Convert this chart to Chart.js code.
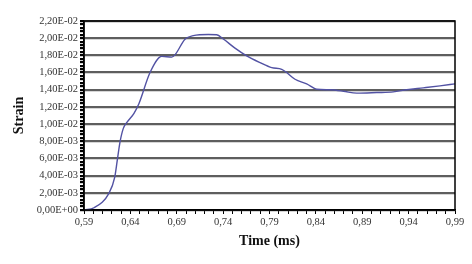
<!DOCTYPE html>
<html>
<head>
<meta charset="utf-8">
<script src="https://cdn.jsdelivr.net/npm/chart.js@4/dist/chart.umd.min.js"></script>
<style>
html,body{margin:0;padding:0;background:#fff;}
#wrap{width:472px;height:264px;position:relative;}
</style>
</head>
<body>
<div id="wrap"><canvas id="c" width="472" height="264"></canvas></div>
<script>
const times = [0.590, 0.6008, 0.6170, 0.6231, 0.6259, 0.6288, 0.6324, 0.6360, 0.6439, 0.6493, 0.6612, 0.6738, 0.6846, 0.6881, 0.6989, 0.7078, 0.7240, 0.7331, 0.7402, 0.7528, 0.7654, 0.7798, 0.7924, 0.8032, 0.8085, 0.8175, 0.8301, 0.8409, 0.8552, 0.8696, 0.8840, 0.9056, 0.9235, 0.9379, 0.9558, 0.9738, 0.990];
const strain = [0, 0.00026, 0.00197, 0.0038, 0.0058, 0.0079, 0.0095, 0.01016, 0.01126, 0.0124, 0.01600, 0.01788, 0.0178, 0.01806, 0.01988, 0.0203, 0.02043, 0.0204, 0.0199, 0.01884, 0.01794, 0.01716, 0.01657, 0.01638, 0.0160, 0.01522, 0.01468, 0.01406, 0.01399, 0.01383, 0.0136, 0.01367, 0.01375, 0.0140, 0.01422, 0.01445, 0.01468];
const xTitle = 'Time (ms)';
const yTitle = 'Strain';

const points = times.map((t, i) => ({x: t, y: strain[i]}));

function fmtExp(v) {
  if (Math.abs(v) < 1e-12) return '0,00E+00';
  const s = v.toExponential(2);
  const [m, e] = s.split('e');
  const en = parseInt(e, 10);
  const es = (en < 0 ? '-' : '+') + String(Math.abs(en)).padStart(2, '0');
  return m.replace('.', ',') + 'E' + es;
}

const borderPlugin = {
  id: 'border',
  afterDraw(chart) {
    const {ctx, chartArea: a} = chart;
    ctx.save();
    ctx.strokeStyle = '#000';
    ctx.lineWidth = 1.5;
    ctx.strokeRect(a.left, a.top, a.right - a.left, a.bottom - a.top);
    ctx.restore();
  }
};

new Chart(document.getElementById('c'), {
  type: 'line',
  data: {
    datasets: [{
      data: points,
      borderColor: '#5252a3',
      borderWidth: 1.4,
      pointRadius: 0,
      cubicInterpolationMode: 'monotone',
      fill: false
    }]
  },
  options: {
    responsive: false,
    animation: false,
    layout: {padding: {left: 11, right: 17, top: 21, bottom: 14}},
    plugins: {legend: {display: false}, tooltip: {enabled: false}},
    scales: {
      x: {
        type: 'linear',
        min: 0.59, max: 0.99,
        afterFit(s) { s.height = 40; },
        border: {display: true, color: '#000', width: 1.5},
        grid: {drawOnChartArea: false, drawTicks: true, tickLength: 4, tickColor: '#000'},
        ticks: {
          stepSize: 0.01, autoSkip: false, maxTicksLimit: 100, maxRotation: 0,
          color: '#333', padding: 2,
          font: {family: 'Liberation Serif', size: 10.5},
          callback(v) {
            const k = Math.round(v * 100);
            return (k % 5 === 4) ? (k / 100).toFixed(2).replace('.', ',') : '';
          }
        },
        title: {display: true, text: xTitle, color: '#111', padding: {top: 0, bottom: 0},
          font: {family: 'Liberation Serif', size: 14, weight: 'bold'}}
      },
      y: {
        min: 0, max: 0.022,
        afterFit(s) { s.width = 73; },
        border: {display: true, color: '#000', width: 1.5},
        grid: {
          drawTicks: true, tickLength: 4, tickColor: '#000',
          color(ctx) {
            const k = Math.round(ctx.tick.value / 0.0004);
            return (k % 5 === 0) ? '#5e5e5e' : 'rgba(0,0,0,0)';
          },
          lineWidth: 2.2
        },
        ticks: {
          stepSize: 0.0004, autoSkip: false, maxTicksLimit: 100,
          color: '#333', padding: 2,
          font: {family: 'Liberation Serif', size: 10.5},
          callback(v) {
            const k = Math.round(v / 0.0004);
            return (k % 5 === 0) ? fmtExp(k * 0.0004) : '';
          }
        },
        title: {display: true, text: yTitle, color: '#111', padding: {top: 0, bottom: 0},
          font: {family: 'Liberation Serif', size: 14, weight: 'bold'}}
      }
    }
  },
  plugins: [borderPlugin]
});
</script>
</body>
</html>
